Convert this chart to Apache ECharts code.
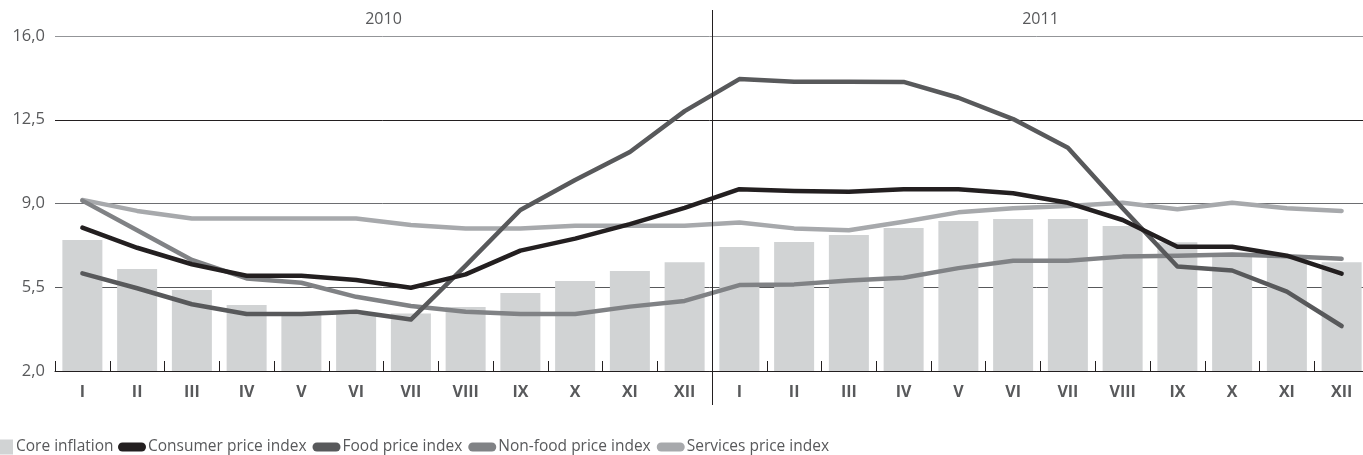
<!DOCTYPE html>
<html>
<head>
<meta charset="utf-8">
<script src="https://cdn.jsdelivr.net/npm/echarts@6/dist/echarts.min.js"></script>
<style>
  html, body { margin: 0; padding: 0; background: #fff; }
  #chart { width: 1363px; height: 455px; }
</style>
</head>
<body>
<div id="chart"></div>
<script>
// Month labels for two years of monthly data
const years = ['2010', '2011'];
const months = ['I', 'II', 'III', 'IV', 'V', 'VI', 'VII', 'VIII', 'IX', 'X', 'XI', 'XII'];
const categories = months.concat(months);

// Year-on-year rates, %
const coreInflation = [7.47, 6.26, 5.38, 4.76, 4.35, 4.35, 4.40, 4.67, 5.26, 5.76, 6.18, 6.55,
                       7.18, 7.39, 7.68, 7.98, 8.27, 8.35, 8.35, 8.06, 7.38, 6.90, 6.80, 6.54];
const consumerPrice = [7.99, 7.15, 6.46, 5.98, 5.98, 5.80, 5.48, 6.04, 7.03, 7.53, 8.14, 8.82,
                       9.60, 9.52, 9.49, 9.60, 9.60, 9.43, 9.03, 8.31, 7.19, 7.19, 6.82, 6.07];
const foodPrice = [6.08, 5.46, 4.79, 4.38, 4.38, 4.48, 4.15, 6.40, 8.73, 9.98, 11.15, 12.86,
                   14.20, 14.09, 14.09, 14.08, 13.42, 12.53, 11.33, 8.80, 6.37, 6.20, 5.32, 3.88];
const nonFoodPrice = [9.12, 7.88, 6.64, 5.87, 5.69, 5.10, 4.72, 4.48, 4.38, 4.38, 4.69, 4.93,
                      5.59, 5.62, 5.78, 5.90, 6.30, 6.61, 6.61, 6.78, 6.82, 6.87, 6.80, 6.69];
const servicesPrice = [9.15, 8.69, 8.37, 8.37, 8.37, 8.37, 8.10, 7.96, 7.96, 8.07, 8.07, 8.07,
                       8.21, 7.96, 7.88, 8.24, 8.63, 8.80, 8.90, 9.03, 8.76, 9.03, 8.80, 8.69];

// Value axis ticks
const yMin = 2.0, yMax = 16.0, yStep = 3.5;

const FONT = '"Open Sans", "Noto Sans", sans-serif';
const TEXT = '#58595b';
const C = {
  core: '#d1d3d4',
  cpi: '#231f20',
  food: '#58595b',
  nonFood: '#808285',
  services: '#a7a9ac'
};

// Capsule used as the legend marker of the line series (kept at its own aspect ratio)
const CAPSULE = 'path://M4.5,0 L23.5,0 A4.5,4.5 0 0 1 23.5,9 L4.5,9 A4.5,4.5 0 0 1 4.5,0 Z';

const chart = echarts.init(document.getElementById('chart'), null, { renderer: 'canvas' });

const lineSeries = (name, data, color, z) => ({
  name, type: 'line', data, xAxisIndex: 0, yAxisIndex: 0,
  symbol: 'none', z,
  lineStyle: { color, width: 4.5, join: 'round', cap: 'round' },
  itemStyle: { color },
  emphasis: { disabled: true },
  animation: false
});

const capsuleItem = (name, color) => ({
  name, icon: CAPSULE,
  itemStyle: { color, borderWidth: 0 }
});

const legendText = { fontFamily: FONT, fontSize: 15.5, color: TEXT };

chart.setOption({
  animation: false,
  textStyle: { fontFamily: FONT },
  grid: { left: 55, width: 1314, top: 36, bottom: 84, containLabel: false, outerBoundsMode: 'none' },
  legend: [
    {
      left: 0, top: 439, padding: 0,
      itemWidth: 13, itemHeight: 15, itemGap: 6,
      icon: 'rect',
      data: ['Core inflation'],
      textStyle: Object.assign({ padding: [0, 0, 0, -2] }, legendText),
      selectedMode: false
    },
    {
      left: 118, top: 439, padding: 0,
      itemWidth: 28, itemHeight: 15, itemGap: 6,
      symbolKeepAspect: true,
      itemStyle: { borderWidth: 0 },
      lineStyle: { width: 0 },
      data: [
        capsuleItem('Consumer price index', C.cpi),
        capsuleItem('Food price index', C.food),
        capsuleItem('Non-food price index', C.nonFood),
        capsuleItem('Services price index', C.services)
      ],
      textStyle: Object.assign({ padding: [0, 0, 0, -3] }, legendText),
      selectedMode: false
    }
  ],
  xAxis: [
    {
      type: 'category', data: categories, boundaryGap: true, position: 'bottom',
      axisLine: { show: true, lineStyle: { color: '#231f20', width: 1 } },
      axisTick: { show: true, inside: true, length: 10, lineStyle: { color: '#231f20', width: 1 } },
      axisLabel: { color: TEXT, fontFamily: FONT, fontSize: 16, fontWeight: 'bold', margin: 13 },
      splitLine: { show: false }
    },
    {
      type: 'category', data: years, boundaryGap: true, position: 'top',
      axisLine: { show: false }, axisTick: { show: false },
      axisLabel: { color: TEXT, fontFamily: FONT, fontSize: 16, margin: 9 },
      splitLine: { show: false }
    },
    {
      type: 'value', min: 0, max: categories.length, show: false
    }
  ],
  yAxis: {
    type: 'value', min: yMin, max: yMax, interval: yStep,
    axisLine: { show: false }, axisTick: { show: false },
    axisLabel: {
      color: TEXT, fontFamily: FONT, fontSize: 16.5, margin: 10,
      formatter: v => v.toFixed(1).replace('.', ',')
    },
    splitLine: {
      show: true,
      lineStyle: { color: ['#231f20', '#58595b', '#6d6e71', '#231f20', '#939598'], width: 1 }
    }
  },
  series: [
    {
      name: 'Core inflation', type: 'bar', data: coreInflation, barWidth: 40,
      itemStyle: { color: C.core }, z: 1, emphasis: { disabled: true }
    },
    lineSeries('Services price index', servicesPrice, C.services, 2),
    lineSeries('Non-food price index', nonFoodPrice, C.nonFood, 3),
    lineSeries('Food price index', foodPrice, C.food, 4),
    lineSeries('Consumer price index', consumerPrice, C.cpi, 5)
  ]
});

// Vertical separator between the two years, placed through the hidden value axis
const sepX = Math.round(chart.convertToPixel({ xAxisIndex: 2 }, months.length)) + 0.5;
chart.setOption({
  graphic: [{
    type: 'line', silent: true, z: 10,
    shape: { x1: sepX, y1: 10, x2: sepX, y2: 405 },
    style: { stroke: '#231f20', lineWidth: 1 }
  }]
});
</script>
</body>
</html>
